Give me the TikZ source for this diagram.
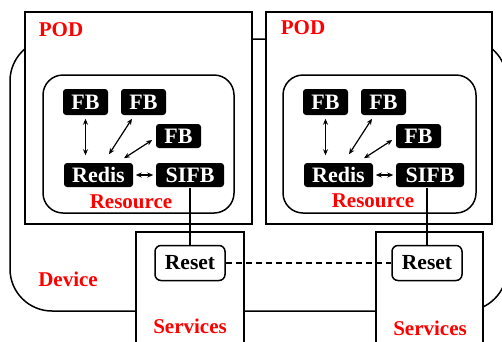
\documentclass[tikz,border=0pt]{standalone}
\usepackage{fontspec}
\setmainfont{Liberation Serif}
\usetikzlibrary{arrows.meta}

\tikzset{
  blk/.style={fill=black, text=white, rounded corners=3pt, inner sep=0pt,
              font=\fontsize{22}{22}\selectfont\bfseries},
  rst/.style={draw=black, fill=white, rounded corners=6pt, inner sep=0pt,
              minimum width=70pt, minimum height=35pt, font=\fontsize{21.5}{21.5}\selectfont\bfseries},
  lbl/.style={text=red, inner sep=0pt, font=\fontsize{21}{21}\selectfont\bfseries},
  dbl/.style={{Stealth[length=6pt,width=5pt]}-{Stealth[length=6pt,width=5pt]}, line width=1.2pt}
}

\begin{document}
\begin{tikzpicture}[x=1pt, y=-1pt, line width=1.5pt]

\useasboundingbox (0,0) rectangle (502,341);
\clip (0,0) rectangle (502,341);

% draw device
\draw[rounded corners=42pt] (10,39) rectangle (507,311);

% draw services
\filldraw[fill=white] (136,232) rectangle (244,360);
\filldraw[fill=white] (376,232) rectangle (483,360);

% draw pods and resources
\filldraw[fill=white] (25,12) rectangle (252,224);
\filldraw[fill=white] (266,12) rectangle (492,224);
\draw[rounded corners=20pt] (43,75) rectangle (234,213);
\draw[rounded corners=20pt] (283,75) rectangle (476,213);

% draw blocks, left pod
\node[blk, minimum width=45pt, minimum height=26pt] (fbA1) at (85.5,102) {FB};
\node[blk, minimum width=45pt, minimum height=26pt] (fbA2) at (143.5,102) {FB};
\node[blk, minimum width=45pt, minimum height=24pt] (fbA3) at (178.5,136) {FB};
\node[blk, minimum width=69pt, minimum height=24pt] (redisA) at (98.5,175) {Redis};
\node[blk, minimum width=68pt, minimum height=24pt] (sifbA) at (190,175) {SIFB};

% draw blocks, right pod
\node[blk, minimum width=45pt, minimum height=26pt] (fbB1) at (325.5,102) {FB};
\node[blk, minimum width=45pt, minimum height=26pt] (fbB2) at (383.5,102) {FB};
\node[blk, minimum width=45pt, minimum height=24pt] (fbB3) at (418.5,136) {FB};
\node[blk, minimum width=69pt, minimum height=24pt] (redisB) at (338.5,175) {Redis};
\node[blk, minimum width=68pt, minimum height=24pt] (sifbB) at (430,175) {SIFB};

% draw arrows
\draw[dbl] ([yshift=-3pt]fbA1.south) -- ([yshift=7pt]fbA1.south |- redisA.north);
\draw[dbl] ([xshift=-11.5pt, yshift=-3pt]fbA2.south) -- ([xshift=10.5pt, yshift=8pt]redisA.north);
\draw[dbl] ([xshift=-3pt, yshift=-4pt]fbA3.west) -- ([xshift=25.5pt, yshift=4pt]redisA.north);
\draw[dbl, shorten <=2pt, shorten >=2pt] (redisA.east) -- (sifbA.west);
\draw[dbl] ([yshift=-3pt]fbB1.south) -- ([yshift=7pt]fbB1.south |- redisB.north);
\draw[dbl] ([xshift=-11.5pt, yshift=-3pt]fbB2.south) -- ([xshift=10.5pt, yshift=8pt]redisB.north);
\draw[dbl] ([xshift=-3pt, yshift=-4pt]fbB3.west) -- ([xshift=25.5pt, yshift=4pt]redisB.north);
\draw[dbl, shorten <=2pt, shorten >=2pt] (redisB.east) -- (sifbB.west);

% draw reset services
\node[rst] (resetA) at (190,263) {Reset};
\node[rst] (resetB) at (427,263) {Reset};
\draw[line width=1.3pt] (sifbA.south) -- (resetA.north);
\draw[line width=1.3pt] (resetB.north |- sifbB.south) -- (resetB.north);
\draw[dash pattern=on 6pt off 4pt, line width=1.3pt] (resetA.east) -- (resetB.west);

% draw labels
\node[lbl] (podA) at (61,30) {POD};
\node[lbl] (podB) at (303,28) {POD};
\node[lbl] (resA) at (131,202) {Resource};
\node[lbl] (resB) at (373,201) {Resource};
\node[lbl] (dev) at (68,279) {Device};
\node[lbl] (srvA) at (190,326) {Services};
\node[lbl] (srvB) at (430,328) {Services};

\end{tikzpicture}
\end{document}
